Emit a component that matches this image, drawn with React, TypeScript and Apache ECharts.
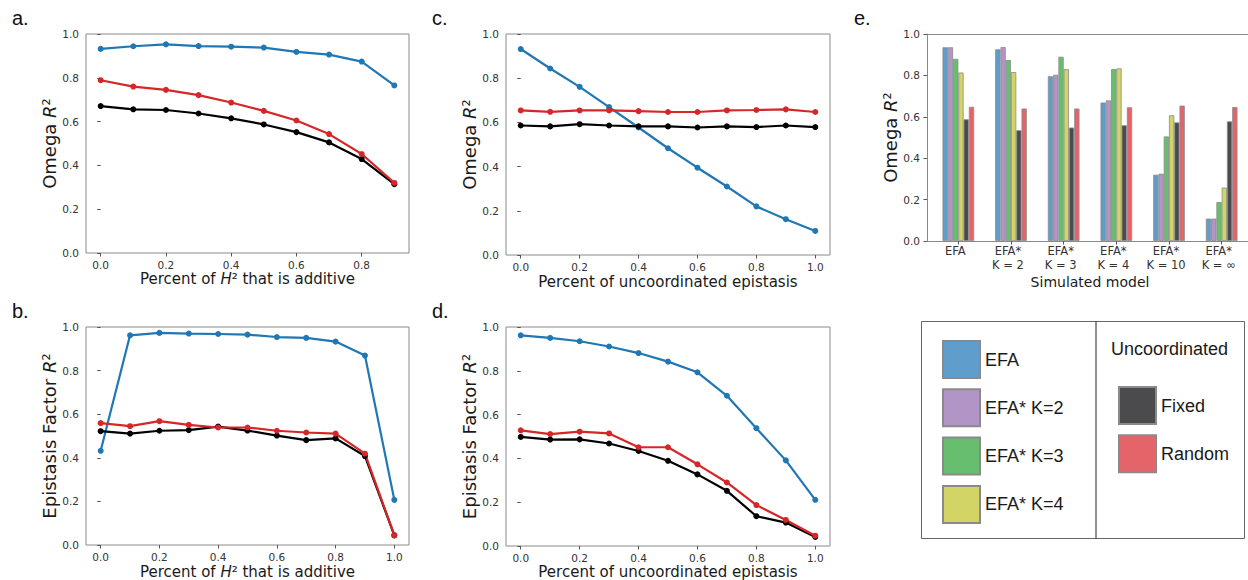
import React, { useEffect, useRef } from "react";
import * as echarts from "echarts";

// ---------- data ----------
const additiveX = [0.0, 0.1, 0.2, 0.3, 0.4, 0.5, 0.6, 0.7, 0.8, 0.9];
const fullX = [0.0, 0.1, 0.2, 0.3, 0.4, 0.5, 0.6, 0.7, 0.8, 0.9, 1.0];

const aEFA = [0.932, 0.944, 0.953, 0.945, 0.942, 0.938, 0.918, 0.906, 0.874, 0.765];
const aRandom = [0.789, 0.76, 0.745, 0.721, 0.687, 0.649, 0.605, 0.543, 0.452, 0.32];
const aFixed = [0.671, 0.656, 0.653, 0.637, 0.615, 0.587, 0.552, 0.505, 0.429, 0.314];

const bEFA = [0.432, 0.962, 0.973, 0.97, 0.968, 0.965, 0.954, 0.95, 0.933, 0.869, 0.207];
const bRandom = [0.559, 0.545, 0.568, 0.551, 0.539, 0.539, 0.524, 0.516, 0.511, 0.419, 0.045];
const bFixed = [0.522, 0.511, 0.524, 0.527, 0.543, 0.525, 0.502, 0.481, 0.489, 0.408, 0.044];

const cEFA = [0.932, 0.844, 0.761, 0.669, 0.577, 0.483, 0.395, 0.31, 0.22, 0.162, 0.109];
const cRandom = [0.654, 0.648, 0.654, 0.654, 0.651, 0.647, 0.647, 0.654, 0.656, 0.659, 0.647];
const cFixed = [0.586, 0.582, 0.592, 0.586, 0.582, 0.582, 0.577, 0.582, 0.579, 0.586, 0.579];

const dEFA = [0.962, 0.95, 0.935, 0.911, 0.881, 0.842, 0.793, 0.686, 0.538, 0.391, 0.211];
const dRandom = [0.528, 0.511, 0.522, 0.514, 0.451, 0.451, 0.373, 0.29, 0.187, 0.119, 0.047];
const dFixed = [0.498, 0.486, 0.487, 0.468, 0.434, 0.389, 0.327, 0.252, 0.136, 0.107, 0.041];

const models = ["EFA", "EFA*\nK = 2", "EFA*\nK = 3", "EFA*\nK = 4", "EFA*\nK = 10", "EFA*\nK = \u221e"];
const eEFA = [0.936, 0.926, 0.796, 0.669, 0.32, 0.108];
const eK2 = [0.936, 0.937, 0.803, 0.679, 0.325, 0.108];
const eK3 = [0.88, 0.874, 0.89, 0.83, 0.505, 0.188];
const eK4 = [0.814, 0.816, 0.83, 0.834, 0.607, 0.258];
const eFixed = [0.588, 0.535, 0.548, 0.559, 0.573, 0.578];
const eRandom = [0.648, 0.64, 0.64, 0.646, 0.654, 0.647];

const xTicksA = [0.0, 0.2, 0.4, 0.6, 0.8];
const xTicksFull = [0.0, 0.2, 0.4, 0.6, 0.8, 1.0];

// ---------- styles ----------
const FONT = "DejaVu Sans";
const SANS = "Liberation Sans";
const SPINE = "#8a8a8a";
const TICK = "#555";
const LABEL = "#333";
const TITLE = "#1a1a1a";
const BLUE = "#1f77b4";
const RED = "#d62728";
const BLACK = "#000000";

const barColors = {
  EFA: "#5f9ecc",
  K2: "#b294c6",
  K3: "#66be6e",
  K4: "#d3d466",
  Fixed: "#4b4b4d",
  Random: "#e4646a",
};

const fmt = (v: number) => v.toFixed(1);

const richName = {
  n: { fontFamily: FONT, fontSize: 18, color: TITLE },
  i: { fontFamily: FONT, fontSize: 18, color: TITLE, fontStyle: "italic" },
  x: { fontFamily: FONT, fontSize: 15, color: TITLE },
  xi: { fontFamily: FONT, fontSize: 15, color: TITLE, fontStyle: "italic" },
};

function xAxisValue(grid: number, min: number, max: number, ticks: number[], name: string, gap: number) {
  return {
    type: "value",
    gridIndex: grid,
    min,
    max,
    axisLine: { show: false },
    splitLine: { show: false },
    axisTick: { show: true, length: 3.5, customValues: ticks, lineStyle: { color: TICK } },
    axisLabel: {
      customValues: ticks,
      formatter: fmt,
      fontFamily: FONT,
      fontSize: 10.5,
      color: LABEL,
      margin: 6,
    },
    name,
    nameLocation: "middle",
    nameGap: gap,
    nameTextStyle: { rich: richName },
  };
}

function yAxisValue(grid: number, name: string, gap: number, extra: any = {}) {
  return {
    type: "value",
    gridIndex: grid,
    min: 0,
    max: 1,
    interval: 0.2,
    axisLine: { show: false },
    splitLine: { show: false },
    axisTick: { show: true, length: 3.5, lineStyle: { color: TICK } },
    axisLabel: { formatter: fmt, fontFamily: FONT, fontSize: 10.5, color: LABEL, margin: 7 },
    name,
    nameLocation: "middle",
    nameRotate: 90,
    nameGap: gap,
    nameTextStyle: { rich: richName },
    ...extra,
  };
}

function lineSeries(name: string, xs: number[], ys: number[], color: string, axis: number) {
  return {
    type: "line",
    name,
    xAxisIndex: axis,
    yAxisIndex: axis,
    data: xs.map((x, i) => [x, ys[i]]),
    symbol: "circle",
    symbolSize: 6,
    showSymbol: true,
    lineStyle: { color, width: 2.2 },
    itemStyle: { color },
    emphasis: { disabled: true },
  };
}

function barSeries(name: string, values: number[], color: string) {
  return {
    type: "bar",
    name,
    xAxisIndex: 4,
    yAxisIndex: 4,
    data: values,
    barGap: "0%",
    barCategoryGap: "40%",
    itemStyle: { color, borderColor: "#8a8a8a", borderWidth: 0.8 },
    emphasis: { disabled: true },
  };
}

const omegaName = "{n|Omega }{i|R}{n|\u00b2}";
const factorName = "{n|Epistasis Factor }{i|R}{n|\u00b2}";
const additiveName = "{x|Percent of }{xi|H}{x|\u00b2 that is additive}";
const uncoordName = "{x|Percent of uncoordinated epistasis}";

const panelLabel = (t: string, x: number, y: number) => ({
  type: "text",
  x,
  y,
  style: { text: t, font: `20px "${SANS}"`, fill: "#111", textAlign: "left", textVerticalAlign: "middle" },
});

export default function App() {
  const ref = useRef<HTMLDivElement>(null);

  useEffect(() => {
    if (!ref.current) return;
    const chart = echarts.init(ref.current, undefined, { renderer: "svg" });
    const frame = { show: true, borderColor: SPINE, borderWidth: 1, backgroundColor: "transparent" };

    const option: any = {
      animation: false,
      grid: [
        { left: 86, top: 34, width: 323, height: 219, ...frame },
        { left: 86, top: 327, width: 323, height: 218, ...frame },
        { left: 506, top: 34, width: 324, height: 221, ...frame },
        { left: 506, top: 327, width: 324, height: 221, ...frame },
        { left: 932, top: 34, width: 316, height: 207, show: false },
      ],
      xAxis: [
        xAxisValue(0, -0.045, 0.945, xTicksA, additiveName, 18),
        xAxisValue(1, -0.05, 1.05, xTicksFull, additiveName, 19),
        xAxisValue(2, -0.05, 1.05, xTicksFull, uncoordName, 19),
        xAxisValue(3, -0.05, 1.05, xTicksFull, uncoordName, 18),
        {
          type: "category",
          gridIndex: 4,
          data: models,
          axisLine: { show: false },
          axisTick: { show: true, alignWithLabel: true, length: 3.5, lineStyle: { color: TICK } },
          axisLabel: {
            fontFamily: FONT,
            fontSize: 11.5,
            color: LABEL,
            lineHeight: 14,
            margin: 3,
            padding: [0, 6, 0, 0],
            interval: 0,
          },
          name: "Simulated model",
          nameLocation: "middle",
          nameGap: 34,
          nameTextStyle: { fontFamily: FONT, fontSize: 14, color: TITLE },
        },
      ],
      yAxis: [
        yAxisValue(0, omegaName, 23),
        yAxisValue(1, factorName, 23),
        yAxisValue(2, omegaName, 23),
        yAxisValue(3, factorName, 23),
        yAxisValue(4, omegaName, 24, {
          offset: 5,
          axisLine: { show: true, lineStyle: { color: SPINE, width: 1 } },
        }),
      ],
      legend: [
        {
          data: ["EFA", "EFA* K=2", "EFA* K=3", "EFA* K=4"],
          orient: "vertical",
          left: 942,
          top: 340,
          padding: 0,
          itemWidth: 37,
          itemHeight: 37,
          itemGap: 9.3,
          icon: "rect",
          selectedMode: false,
          textStyle: { fontFamily: SANS, fontSize: 18, color: "#1a1a1a" },
        },
        {
          data: ["Fixed", "Random"],
          orient: "vertical",
          left: 1118,
          top: 386,
          padding: 0,
          itemWidth: 37,
          itemHeight: 37,
          itemGap: 9.3,
          icon: "rect",
          selectedMode: false,
          textStyle: { fontFamily: SANS, fontSize: 18, color: "#1a1a1a" },
        },
      ],
      series: [
        lineSeries("EFA (a)", additiveX, aEFA, BLUE, 0),
        lineSeries("Fixed (a)", additiveX, aFixed, BLACK, 0),
        lineSeries("Random (a)", additiveX, aRandom, RED, 0),
        lineSeries("EFA (b)", fullX, bEFA, BLUE, 1),
        lineSeries("Fixed (b)", fullX, bFixed, BLACK, 1),
        lineSeries("Random (b)", fullX, bRandom, RED, 1),
        lineSeries("EFA (c)", fullX, cEFA, BLUE, 2),
        lineSeries("Fixed (c)", fullX, cFixed, BLACK, 2),
        lineSeries("Random (c)", fullX, cRandom, RED, 2),
        lineSeries("EFA (d)", fullX, dEFA, BLUE, 3),
        lineSeries("Fixed (d)", fullX, dFixed, BLACK, 3),
        lineSeries("Random (d)", fullX, dRandom, RED, 3),
        barSeries("EFA", eEFA, barColors.EFA),
        barSeries("EFA* K=2", eK2, barColors.K2),
        barSeries("EFA* K=3", eK3, barColors.K3),
        barSeries("EFA* K=4", eK4, barColors.K4),
        barSeries("Fixed", eFixed, barColors.Fixed),
        barSeries("Random", eRandom, barColors.Random),
      ],
      graphic: [
        panelLabel("a.", 12, 18),
        panelLabel("b.", 12, 311),
        panelLabel("c.", 432, 18),
        panelLabel("d.", 432, 311),
        panelLabel("e.", 854, 18),
        {
          type: "line",
          shape: { x1: 927, y1: 34.5, x2: 1248, y2: 34.5 },
          style: { stroke: SPINE, lineWidth: 1 },
        },
        {
          type: "line",
          shape: { x1: 927, y1: 241.5, x2: 1248, y2: 241.5 },
          style: { stroke: SPINE, lineWidth: 1 },
        },
        {
          type: "rect",
          shape: { x: 921.5, y: 321.5, width: 323, height: 217 },
          style: { fill: "none", stroke: "#666", lineWidth: 1 },
        },
        {
          type: "line",
          shape: { x1: 1096, y1: 321.5, x2: 1096, y2: 538.5 },
          style: { stroke: "#222", lineWidth: 1 },
        },
        {
          type: "text",
          x: 1111,
          y: 349,
          style: {
            text: "Uncoordinated",
            font: `18px "${SANS}"`,
            fill: "#1a1a1a",
            textAlign: "left",
            textVerticalAlign: "middle",
          },
        },
      ],
    };

    chart.setOption(option);
    return () => chart.dispose();
  }, []);

  return (
    <div
      ref={ref}
      style={{ position: "fixed", left: 0, top: 0, width: 1248, height: 580, background: "#fff" }}
    />
  );
}
